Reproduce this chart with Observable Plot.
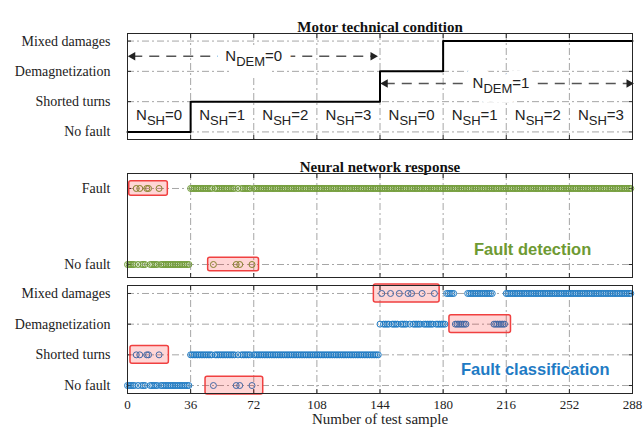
<!DOCTYPE html>
<html><head><meta charset="utf-8">
<script src="https://cdn.jsdelivr.net/npm/d3@7"></script>
<script src="https://cdn.jsdelivr.net/npm/@observablehq/plot@0.6"></script>
<style>
body{margin:0;background:#fff;}
#chart{position:relative;width:643px;height:431px;overflow:hidden;}
#chart svg{position:absolute;left:0;overflow:visible;}
#chart g[aria-label="y-axis tick label"]{font-size:14px;}
#chart g[aria-label="x-axis tick label"]{font-size:13px;}
</style></head><body><div id="chart"></div>
<script>
// ---- data ----
const conditionLabels = ["No fault", "Shorted turns", "Demagnetization", "Mixed damages"];
const detectionLabels = ["No fault", "Fault"];
const xTicks = [0, 36, 72, 108, 144, 180, 216, 252, 288];
const stepSamples = [0, 36, 144, 180, 288];
const stepLevels = [0, 1, 2, 3, 3];
const nshCenters = [18, 54, 90, 126, 162, 198, 234, 270];
const nshLabels = ["N_SH=0", "N_SH=1", "N_SH=2", "N_SH=3", "N_SH=0", "N_SH=1", "N_SH=2", "N_SH=3"];
const demLabels = ["N_DEM=0", "N_DEM=1"];
const demFrom = [3, 147];
const demTo = [140, 286];
const demCenter = [72, 213];
const demLevel = [2.5, 1.6];

// sample runs [first, last] per predicted class
const detFaultRuns = [[5,5],[7,7],[11,12],[18,18],[36,48],[50,61],[63,63],[65,70],[72,287]];
const detNoFaultRuns = [[0,4],[6,6],[8,10],[13,17],[19,35],[49,49],[62,62],[64,64],[71,71]];
const clsNoFaultRuns = [[0,4],[6,6],[8,10],[13,17],[19,35],[49,49],[62,62],[64,64],[71,71]];
const clsShortedRuns = [[5,5],[7,7],[11,12],[18,18],[36,48],[50,61],[63,63],[65,70],[72,143]];
const clsDemagRuns = [[144,144],[146,149],[151,154],[156,159],[161,161],[163,167],[169,174],[176,181],[187,193],[209,215]];
const clsMixedRuns = [[145,145],[150,150],[155,155],[160,160],[162,162],[168,168],[175,175],[182,186],[194,208],[216,287]];

// highlight boxes [x1, x2, level, halfHeight]
const detBoxes = [[1, 23, 1, 0.095], [46, 75, 0, 0.09]];
const clsBoxes = [[1.7, 23.6, 1, 0.29], [44.5, 77.4, 0, 0.29], [140.5, 178, 3, 0.29], [183.6, 218.7, 2, 0.29]];

const detectionText = ["Fault detection"];
const classificationText = ["Fault classification"];

// ---- style ----
const green = "#6e9a33", blue = "#1f7bc4";
const gridColor = "#a6a6a6", gridDash = "7,3,2,3";
const frameColor = "#262626";
const serif = "Liberation Serif, Times New Roman, serif";
const sans = "Liberation Sans, Arial, sans-serif";

const expand = runs => runs.flatMap(([a, b]) => d3.range(a, b + 1));

function baseMarks(levels, labels, showXLabels) {
  const m = [
    Plot.ruleX(xTicks.slice(1, -1), {stroke: gridColor, strokeDasharray: gridDash}),
    Plot.ruleY(levels, {stroke: gridColor, strokeDasharray: gridDash}),
    Plot.axisY(levels, {anchor: "left", tickSize: 0, tickPadding: 17, tickFormat: v => labels[v], fontFamily: serif, fill: "#222", label: null}),
    Plot.axisY(levels, {anchor: "left", tickSize: -4, tickFormat: () => "", stroke: frameColor, label: null}),
    Plot.axisY(levels, {anchor: "right", tickSize: -4, tickFormat: () => "", stroke: frameColor, label: null}),
    Plot.axisX(xTicks, {anchor: "top", tickSize: -4, tickFormat: () => "", stroke: frameColor, label: null}),
    Plot.axisX(xTicks, {anchor: "bottom", tickSize: -4, tickFormat: () => "", stroke: frameColor, label: null})
  ];
  if (showXLabels) m.push(Plot.axisX(xTicks, {anchor: "bottom", tickSize: 0, tickPadding: 6, fontFamily: serif, fill: "#222", label: null}));
  return m;
}

function dotsMarks(rows, color) {
  return rows.map(([runs, level]) =>
    Plot.dot(expand(runs), {x: d => d, y: () => level, r: 3, stroke: color, fill: "none", strokeWidth: 1}));
}

function boxMark(boxes) {
  return Plot.rect(boxes, {x1: b => b[0], x2: b => b[1], y1: b => b[2] - b[3], y2: b => b[2] + b[3],
    fill: "#ff0000", fillOpacity: 0.16, stroke: "#f04040", strokeWidth: 1.5, rx: 2});
}

function titleMark(t) {
  return Plot.text([t], {frameAnchor: "top", dy: -12, fontWeight: "bold", fontSize: 15, fontFamily: serif, fill: "#111"});
}

const W = 643, ML = 127, MR = 11;
const chart = document.getElementById("chart");

// ---- top panel ----
const demIdx = [0, 1];
const demTextOpts = {x: i => demCenter[i], y: i => demLevel[i], text: i => demLabels[i], fontFamily: sans, fontSize: 15};
const topPanel = Plot.plot({
  width: W, height: 145, marginLeft: ML, marginRight: MR, marginTop: 33, marginBottom: 6,
  x: {domain: [0, 288]}, y: {domain: [-0.25, 3.25]},
  style: {fontFamily: serif, fontSize: "13px", background: "transparent"},
  marks: [
    ...baseMarks([0, 1, 2, 3], conditionLabels, false),
    Plot.line(stepSamples, {x: d => d, y: (d, i) => stepLevels[i], curve: "step-after", stroke: "#000", strokeWidth: 2}),
    Plot.ruleY(demIdx, {y: i => demLevel[i], x1: i => demFrom[i], x2: i => demTo[i], stroke: "#555", strokeWidth: 1.5, strokeDasharray: "10,7"}),
    Plot.dot(demIdx, {x: i => demFrom[i], y: i => demLevel[i], symbol: "triangle", rotate: -90, r: 3.2, fill: "#222", stroke: "none"}),
    Plot.dot(demIdx, {x: i => demTo[i], y: i => demLevel[i], symbol: "triangle", rotate: 90, r: 3.2, fill: "#222", stroke: "none"}),
    Plot.text(demIdx, {...demTextOpts, fill: "white", stroke: "white", strokeWidth: 18}),
    Plot.text(demIdx, {...demTextOpts, fill: "#222"}),
    Plot.text(nshCenters, {x: d => d, y: () => 0.55, text: (d, i) => nshLabels[i], fontFamily: sans, fontSize: 15, fill: "#222"}),
    titleMark("Motor technical condition"),
    Plot.frame({stroke: frameColor})
  ]
});
topPanel.style.top = "0px";
chart.appendChild(topPanel);

// ---- middle panel ----
const midPanel = Plot.plot({
  width: W, height: 135, marginLeft: ML, marginRight: MR, marginTop: 28, marginBottom: 3,
  x: {domain: [0, 288]}, y: {domain: [-0.171, 1.197]},
  style: {fontFamily: serif, fontSize: "13px", background: "transparent"},
  marks: [
    ...baseMarks([0, 1], detectionLabels, false),
    ...dotsMarks([[detFaultRuns, 1], [detNoFaultRuns, 0]], green),
    boxMark(detBoxes),
    Plot.text(detectionText, {x: () => 231, y: () => 0.2, text: d => d, fontFamily: sans, fontWeight: "bold", fontSize: 16.5, fill: green}),
    titleMark("Neural network response"),
    Plot.frame({stroke: frameColor})
  ]
});
midPanel.style.top = "145px";
chart.appendChild(midPanel);

// ---- bottom panel ----
const botPanel = Plot.plot({
  width: W, height: 151, marginLeft: ML, marginRight: MR, marginTop: 5, marginBottom: 38,
  x: {domain: [0, 288]}, y: {domain: [-0.26, 3.26]},
  style: {fontFamily: serif, fontSize: "13px", background: "transparent"},
  marks: [
    ...baseMarks([0, 1, 2, 3], conditionLabels, true),
    ...dotsMarks([[clsNoFaultRuns, 0], [clsShortedRuns, 1], [clsDemagRuns, 2], [clsMixedRuns, 3]], blue),
    boxMark(clsBoxes),
    Plot.text(classificationText, {x: () => 232.5, y: () => 0.53, text: d => d, fontFamily: sans, fontWeight: "bold", fontSize: 16.5, fill: blue}),
    Plot.text(["Number of test sample"], {frameAnchor: "bottom", dy: 30, fontSize: 15, fontFamily: serif, fill: "#222"}),
    Plot.frame({stroke: frameColor})
  ]
});
botPanel.style.top = "280px";
chart.appendChild(botPanel);

// ---- subscripts (N_SH, N_DEM) ----
d3.select(chart).selectAll("text").each(function() {
  const m = /^N_([A-Z]+)=(\d)$/.exec(this.textContent);
  if (!m) return;
  const t = d3.select(this);
  t.text(null);
  t.append("tspan").text("N");
  t.append("tspan").attr("dy", "5px").attr("font-size", "13px").text(m[1]);
  t.append("tspan").attr("dy", "-5px").text("=" + m[2]);
});
</script></body></html>
